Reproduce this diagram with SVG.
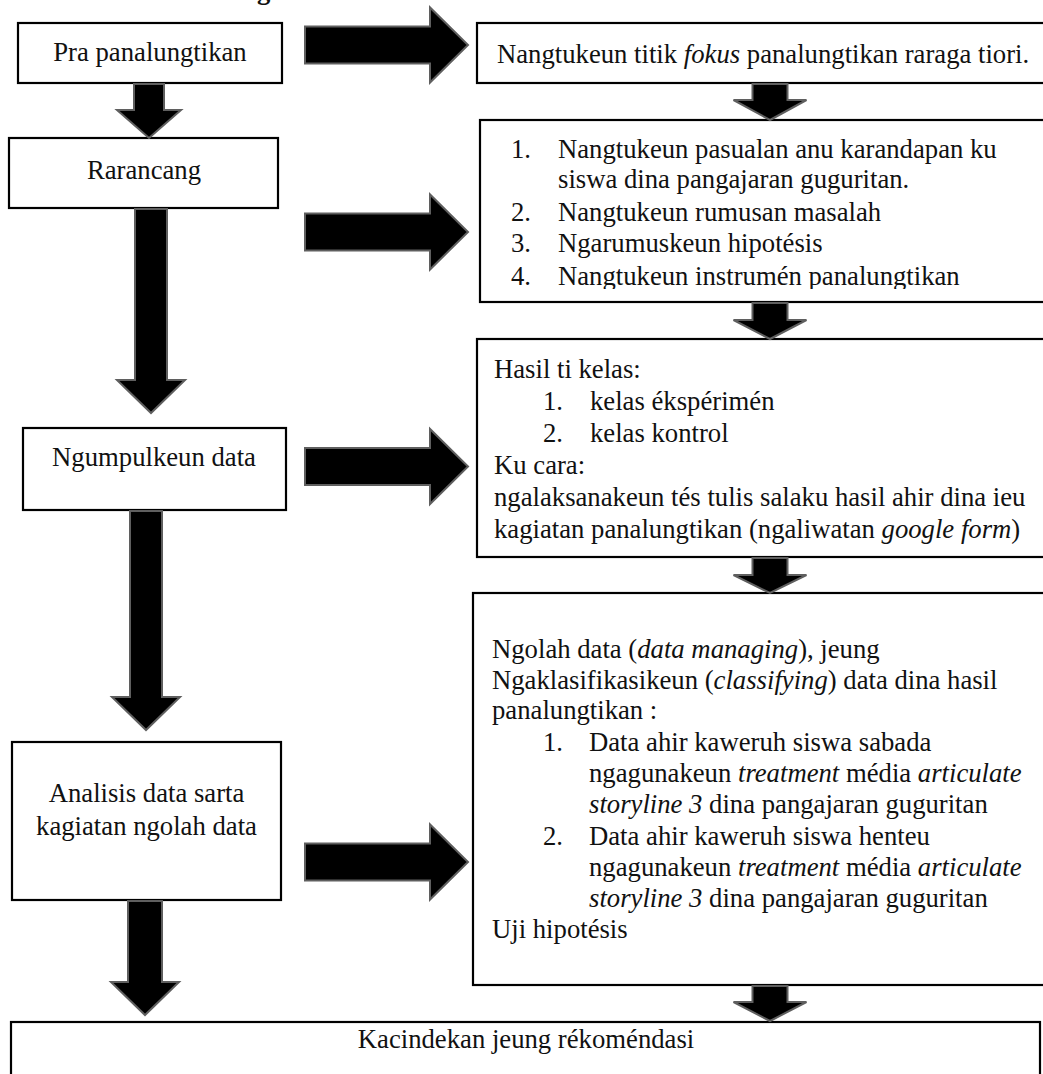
<svg xmlns="http://www.w3.org/2000/svg" width="1043" height="1074" viewBox="0 0 1043 1074">
<style>
.box{fill:#fff;stroke:#000;stroke-width:2.2}
.t{font-family:"Liberation Serif","Times New Roman",serif;font-size:26.7px;fill:#111}
.c{text-anchor:middle}
.i{font-style:italic}
.arr{fill:#000;stroke:#5f5f5f;stroke-width:2;stroke-linejoin:miter}
</style>
<defs>
<clipPath id="clipB"><rect x="480" y="120" width="600" height="169"/></clipPath>
</defs>
<rect width="1043" height="1074" fill="#fff"/>
<text class="t" x="257" y="-1" font-weight="bold">g</text>

<g id="node-pra"><rect class="box" x="18" y="23" width="264" height="60"/><text class="t c" x="150" y="61">Pra panalungtikan</text></g>
<g id="node-rarancang"><rect class="box" x="9" y="138" width="269" height="70"/><text class="t c" x="144" y="179">Rarancang</text></g>
<g id="node-ngumpulkeun"><rect class="box" x="23" y="428" width="263" height="82"/><text class="t c" x="154" y="466">Ngumpulkeun data</text></g>
<g id="node-analisis"><rect class="box" x="12" y="742" width="269" height="158"/><text class="t c" x="146.5" y="802">Analisis data sarta</text><text class="t c" x="146.5" y="835">kagiatan ngolah data</text></g>

<g id="node-fokus"><rect class="box" x="477" y="23" width="580" height="60"/><text class="t" x="497" y="63">Nangtukeun titik <tspan class="i">fokus</tspan> panalungtikan raraga tiori.</text></g>
<g id="node-rarancang-list"><rect class="box" x="480" y="120" width="580" height="182"/>
<g clip-path="url(#clipB)">
<text class="t" x="511" y="158">1.</text><text class="t" x="558" y="158">Nangtukeun pasualan anu karandapan ku</text>
<text class="t" x="558" y="188">siswa dina pangajaran guguritan.</text>
<text class="t" x="511" y="221">2.</text><text class="t" x="558" y="221">Nangtukeun rumusan masalah</text>
<text class="t" x="511" y="252">3.</text><text class="t" x="558" y="252">Ngarumuskeun hipotésis</text>
<text class="t" x="511" y="285">4.</text><text class="t" x="558" y="285">Nangtukeun instrumén panalungtikan</text>
</g></g>
<g id="node-hasil"><rect class="box" x="477" y="339" width="580" height="218"/>
<text class="t" x="494" y="378">Hasil ti kelas:</text>
<text class="t" x="543" y="410">1.</text><text class="t" x="590" y="410">kelas ékspérimén</text>
<text class="t" x="543" y="442">2.</text><text class="t" x="590" y="442">kelas kontrol</text>
<text class="t" x="494" y="474">Ku cara:</text>
<text class="t" x="494" y="506">ngalaksanakeun tés tulis salaku hasil ahir dina ieu</text>
<text class="t" x="494" y="538">kagiatan panalungtikan (ngaliwatan <tspan class="i">google form</tspan>)</text>
</g>
<g id="node-ngolah"><rect class="box" x="473" y="593" width="585" height="392"/>
<text class="t" x="492" y="658">Ngolah data (<tspan class="i">data managing</tspan>), jeung</text>
<text class="t" x="492" y="689">Ngaklasifikasikeun (<tspan class="i">classifying</tspan>) data dina hasil</text>
<text class="t" x="492" y="719">panalungtikan :</text>
<text class="t" x="543" y="751">1.</text><text class="t" x="589" y="751">Data ahir kaweruh siswa sabada</text>
<text class="t" x="589" y="782">ngagunakeun <tspan class="i">treatment</tspan> média <tspan class="i">articulate</tspan></text>
<text class="t" x="589" y="813"><tspan class="i">storyline 3</tspan> dina pangajaran guguritan</text>
<text class="t" x="543" y="845">2.</text><text class="t" x="589" y="845">Data ahir kaweruh siswa henteu</text>
<text class="t" x="589" y="876">ngagunakeun <tspan class="i">treatment</tspan> média <tspan class="i">articulate</tspan></text>
<text class="t" x="589" y="907"><tspan class="i">storyline 3</tspan> dina pangajaran guguritan</text>
<text class="t" x="492" y="938">Uji hipotésis</text>
</g>
<g id="node-kacindekan"><rect class="box" x="11" y="1022" width="1029" height="70"/><text class="t c" x="526" y="1048">Kacindekan jeung rékoméndasi</text></g>

<g id="connectors">
<path class="arr" d="M305,26.5H430V7.5L468,45L430,82.5V63.5H305Z"/>
<path class="arr" d="M305,213.5H430V194.5L468,232L430,269.5V250.5H305Z"/>
<path class="arr" d="M305,448H430V429L468,466.5L430,504V485H305Z"/>
<path class="arr" d="M305,843.5H430V824.5L468,862L430,899.5V880.5H305Z"/>
<path class="arr" d="M134,84V110H117L149,138L181,110H164V84Z"/>
<path class="arr" d="M135,209V380H117L151,413L185,380H167V209Z"/>
<path class="arr" d="M130,511V697H112L146,730L180,697H162V511Z"/>
<path class="arr" d="M128,901V982H111L145,1015L179,982H162V901Z"/>
<path class="arr" d="M752.5,84V100H733.5L770,120L806.5,100H787.5V84Z"/>
<path class="arr" d="M752.5,303V320H733.5L770,339L806.5,320H787.5V303Z"/>
<path class="arr" d="M752.5,558V575H733.5L770,593L806.5,575H787.5V558Z"/>
<path class="arr" d="M752.5,986V1002H733.5L770,1021L806.5,1002H787.5V986Z"/>
</g>
</svg>
